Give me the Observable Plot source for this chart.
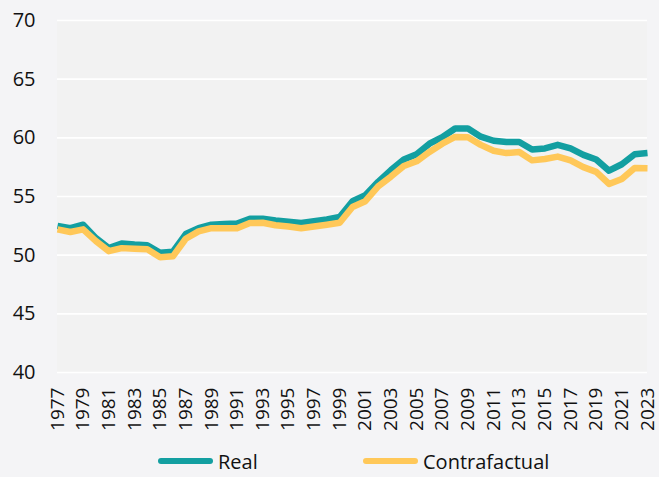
<!DOCTYPE html>
<html>
<head>
<meta charset="utf-8">
<script src="https://cdn.jsdelivr.net/npm/d3@7"></script>
<script src="https://cdn.jsdelivr.net/npm/@observablehq/plot@0.6"></script>
<style>
  html, body { margin: 0; padding: 0; background: #f4f4f6; }
  body { width: 659px; height: 477px; overflow: hidden; font-family: "Open Sans", "Noto Sans", sans-serif; color: #111111; }
  #legend { position: relative; height: 32px; width: 659px; font-size: 20px; }
  .item { position: absolute; top: 0; height: 32px; display: flex; align-items: center; }
  .sw { width: 55px; height: 6px; border-radius: 3px; margin-right: 5px; }
</style>
</head>
<body>
<div id="chart"></div>
<div id="legend"></div>
<script>
const years = [1977,1978,1979,1980,1981,1982,1983,1984,1985,1986,
  1987,1988,1989,1990,1991,1992,1993,1994,1995,1996,
  1997,1998,1999,2000,2001,2002,2003,2004,2005,2006,
  2007,2008,2009,2010,2011,2012,2013,2014,2015,2016,
  2017,2018,2019,2020,2021,2022,2023];
const real = [52.5,52.3,52.6,51.45,50.6,51.0,50.9,50.85,50.2,50.3,
  51.8,52.3,52.6,52.65,52.7,53.1,53.1,52.95,52.85,52.75,
  52.9,53.05,53.25,54.6,55.1,56.25,57.25,58.15,58.6,59.5,
  60.05,60.8,60.8,60.1,59.75,59.65,59.65,59.0,59.1,59.4,
  59.1,58.55,58.15,57.2,57.75,58.6,58.7];
const contra = [52.2,51.97,52.2,51.2,50.34,50.6,50.55,50.5,49.83,49.9,
  51.4,52.03,52.3,52.3,52.3,52.74,52.76,52.55,52.45,52.3,
  52.45,52.6,52.76,54.1,54.6,55.87,56.7,57.6,58.0,58.8,
  59.5,60.08,60.05,59.4,58.9,58.7,58.8,58.08,58.2,58.4,
  58.08,57.5,57.1,56.07,56.5,57.42,57.4];
const seriesNames = ["Real", "Contrafactual"];
const colors = ["#139fa1", "#ffc859"];
const xTicks = years.filter((y, i) => i % 2 === 0);
const yTicks = [40,45,50,55,60,65,70];

const realData = years.map((y, i) => ({year: y, value: real[i]}));
const contraData = years.map((y, i) => ({year: y, value: contra[i]}));

const chart = Plot.plot({
  width: 659,
  height: 445,
  marginLeft: 57,
  marginRight: 12,
  marginTop: 20,
  marginBottom: 73,
  style: {background: "transparent", fontFamily: "'Open Sans', 'Noto Sans', sans-serif", fontSize: "19px", color: "#111111"},
  x: {domain: [1977, 2023]},
  y: {domain: [40, 70]},
  marks: [
    Plot.rect([0], {x1: 1977, x2: 2023, y1: 40, y2: 70, fill: "#f2f2f2"}),
    Plot.gridY(yTicks, {stroke: "#ffffff", strokeOpacity: 1, strokeWidth: 1.6}),
    Plot.axisY(yTicks, {tickSize: 0, tickPadding: 22, label: null, fontSize: 20, fill: "#111111", tickFormat: d => String(d)}),
    Plot.axisX(xTicks, {tickSize: 0, tickPadding: 15, tickRotate: -90, label: null, fontSize: 19, fill: "#111111", tickFormat: d => String(d)}),
    Plot.line(realData, {x: "year", y: "value", stroke: colors[0], strokeWidth: 6.5, strokeLinejoin: "round", strokeLinecap: "butt"}),
    Plot.line(contraData, {x: "year", y: "value", stroke: colors[1], strokeWidth: 6.5, strokeLinejoin: "round", strokeLinecap: "butt"})
  ]
});
document.getElementById("chart").appendChild(chart);

const legend = document.getElementById("legend");
const lefts = [158, 363];
seriesNames.forEach((name, i) => {
  const item = document.createElement("div");
  item.className = "item";
  item.style.left = lefts[i] + "px";
  const sw = document.createElement("div");
  sw.className = "sw";
  sw.style.background = colors[i];
  const t = document.createElement("span");
  t.textContent = name;
  item.appendChild(sw);
  item.appendChild(t);
  legend.appendChild(item);
});
</script>
</body>
</html>
